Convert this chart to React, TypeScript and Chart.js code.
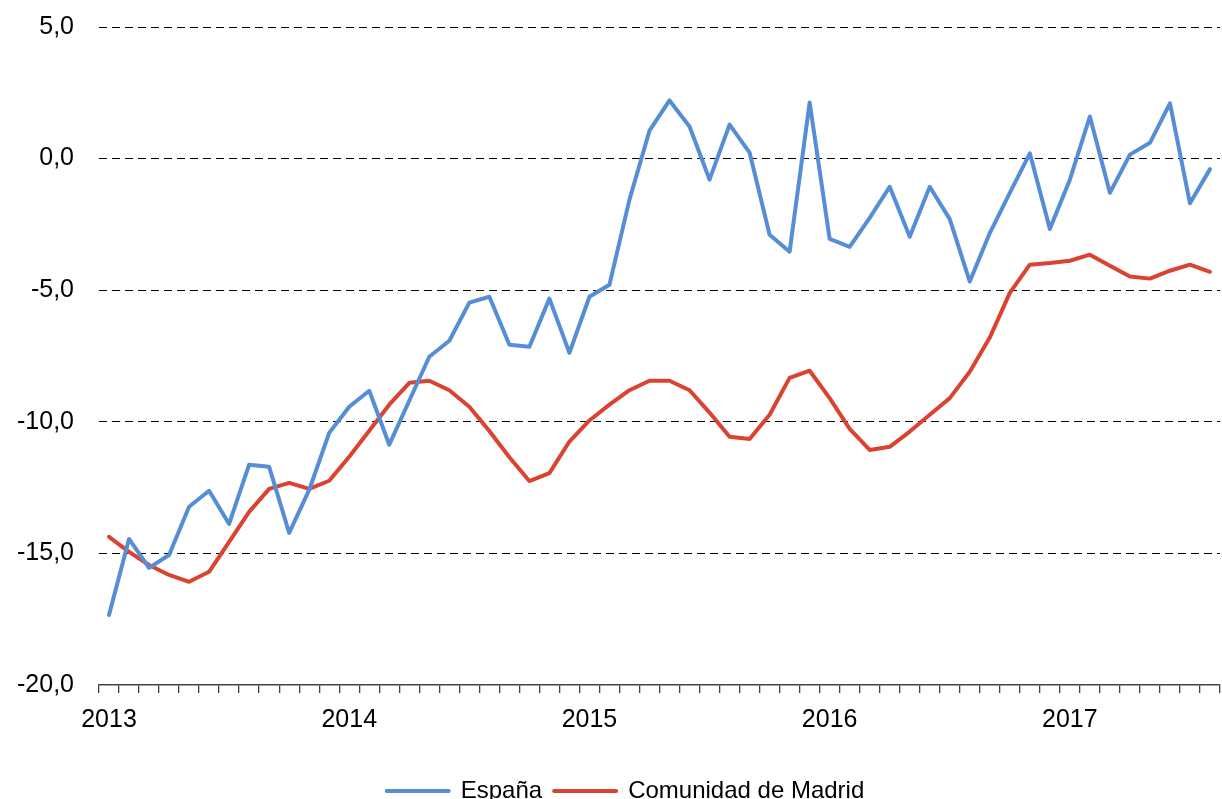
import React, { useEffect, useRef } from "react";
import { Chart, registerables } from "chart.js";

Chart.register(...registerables);

const categories = [
  "2013-01", "2013-02", "2013-03", "2013-04", "2013-05", "2013-06", "2013-07", "2013-08", "2013-09", "2013-10", "2013-11", "2013-12",
  "2014-01", "2014-02", "2014-03", "2014-04", "2014-05", "2014-06", "2014-07", "2014-08", "2014-09", "2014-10", "2014-11", "2014-12",
  "2015-01", "2015-02", "2015-03", "2015-04", "2015-05", "2015-06", "2015-07", "2015-08", "2015-09", "2015-10", "2015-11", "2015-12",
  "2016-01", "2016-02", "2016-03", "2016-04", "2016-05", "2016-06", "2016-07", "2016-08", "2016-09", "2016-10", "2016-11", "2016-12",
  "2017-01", "2017-02", "2017-03", "2017-04", "2017-05", "2017-06", "2017-07", "2017-08",
];

const yearLabels: Record<string, string> = {
  "2013-01": "2013",
  "2014-01": "2014",
  "2015-01": "2015",
  "2016-01": "2016",
  "2017-01": "2017",
};

const espana = [
  -17.34, -14.45, -15.55, -15.06, -13.23, -12.62, -13.88, -11.63, -11.71, -14.22, -12.59, -10.42,
  -9.43, -8.82, -10.87, -9.2, -7.53, -6.92, -5.47, -5.25, -7.07, -7.15, -5.32, -7.38,
  -5.25, -4.79, -1.56, 1.06, 2.21, 1.22, -0.8, 1.29, 0.23, -2.89, -3.54, 2.13,
  -3.05, -3.35, -2.25, -1.07, -2.97, -1.07, -2.3, -4.67, -2.83, -1.3, 0.2, -2.67,
  -0.8, 1.6, -1.3, 0.15, 0.6, 2.1, -1.7, -0.4,
];

const madrid = [
  -14.37, -14.94, -15.44, -15.82, -16.08, -15.7, -14.56, -13.42, -12.55, -12.32, -12.55, -12.24,
  -11.33, -10.34, -9.35, -8.52, -8.44, -8.8, -9.43, -10.35, -11.35, -12.25, -11.95, -10.75,
  -9.95, -9.35, -8.8, -8.44, -8.44, -8.8, -9.65, -10.57, -10.65, -9.73, -8.33, -8.06,
  -9.1, -10.27, -11.07, -10.95, -10.37, -9.73, -9.1, -8.1, -6.8, -5.1, -4.03, -3.97,
  -3.88, -3.65, -4.07, -4.48, -4.56, -4.26, -4.03, -4.3,
];

const seriesNames = ["España", "Comunidad de Madrid"];
const yMin = -20;
const yMax = 5;
const yStep = 5;

const FONT = "'Liberation Sans', Arial, sans-serif";
const TICK_SIZE = 25;
const LEGEND_SIZE = 24;

const legendShift = {
  id: "legendShift",
  afterLayout(chart: any) {
    if (chart.legend) chart.legend.left += 30;
  },
};

export default function App() {
  const ref = useRef<HTMLCanvasElement | null>(null);

  useEffect(() => {
    if (!ref.current) return;
    const chart = new Chart(ref.current, {
      type: "line",
      data: {
        labels: categories,
        datasets: [
          {
            label: seriesNames[0],
            data: espana,
            borderColor: "#558ed5",
            backgroundColor: "#558ed5",
            borderWidth: 4,
            borderCapStyle: "round",
            borderJoinStyle: "round",
            pointRadius: 0,
            tension: 0,
          },
          {
            label: seriesNames[1],
            data: madrid,
            borderColor: "#db4331",
            backgroundColor: "#db4331",
            borderWidth: 4,
            borderCapStyle: "round",
            borderJoinStyle: "round",
            pointRadius: 0,
            tension: 0,
          },
        ],
      },
      plugins: [legendShift],
      options: {
        animation: false,
        responsive: true,
        maintainAspectRatio: false,
        layout: { padding: { top: 27, right: 1, bottom: -14, left: 0 } },
        plugins: {
          tooltip: { enabled: false },
          legend: {
            position: "bottom",
            labels: {
              boxWidth: 62,
              boxHeight: 0,
              padding: 12,
              color: "#000",
              font: { family: FONT, size: LEGEND_SIZE },
            },
          },
        },
        scales: {
          x: {
            offset: true,
            grid: {
              offset: true,
              drawOnChartArea: false,
              drawTicks: true,
              tickLength: 8,
              color: "#404040",
              lineWidth: 1.3,
            },
            border: { display: true, color: "#404040", width: 1.5 },
            ticks: {
              autoSkip: false,
              maxRotation: 0,
              minRotation: 0,
              padding: 12,
              color: "#000",
              font: { family: FONT, size: TICK_SIZE },
              callback: (_v: any, i: number) => yearLabels[categories[i]] ?? "",
            },
            afterFit: (s: any) => {
              s.height = 82;
            },
          },
          y: {
            min: yMin,
            max: yMax,
            grid: {
              drawTicks: true,
              tickLength: 25,
              tickColor: "rgba(0,0,0,0)",
              color: (ctx: any) => (ctx.tick && ctx.tick.value === yMin ? "rgba(0,0,0,0)" : "#000"),
              lineWidth: 1,
            },
            border: { display: false, dash: [8, 5] },
            ticks: {
              stepSize: yStep,
              padding: 0,
              color: "#000",
              font: { family: FONT, size: TICK_SIZE },
              callback: (v: any) => Number(v).toFixed(1).replace(".", ","),
            },
            afterFit: (s: any) => {
              s.width = 99;
            },
          },
        },
      },
    });
    return () => chart.destroy();
  }, []);

  return (
    <div style={{ position: "absolute", left: 0, top: 0, width: 1222, height: 799, background: "#fff" }}>
      <canvas ref={ref} />
    </div>
  );
}
